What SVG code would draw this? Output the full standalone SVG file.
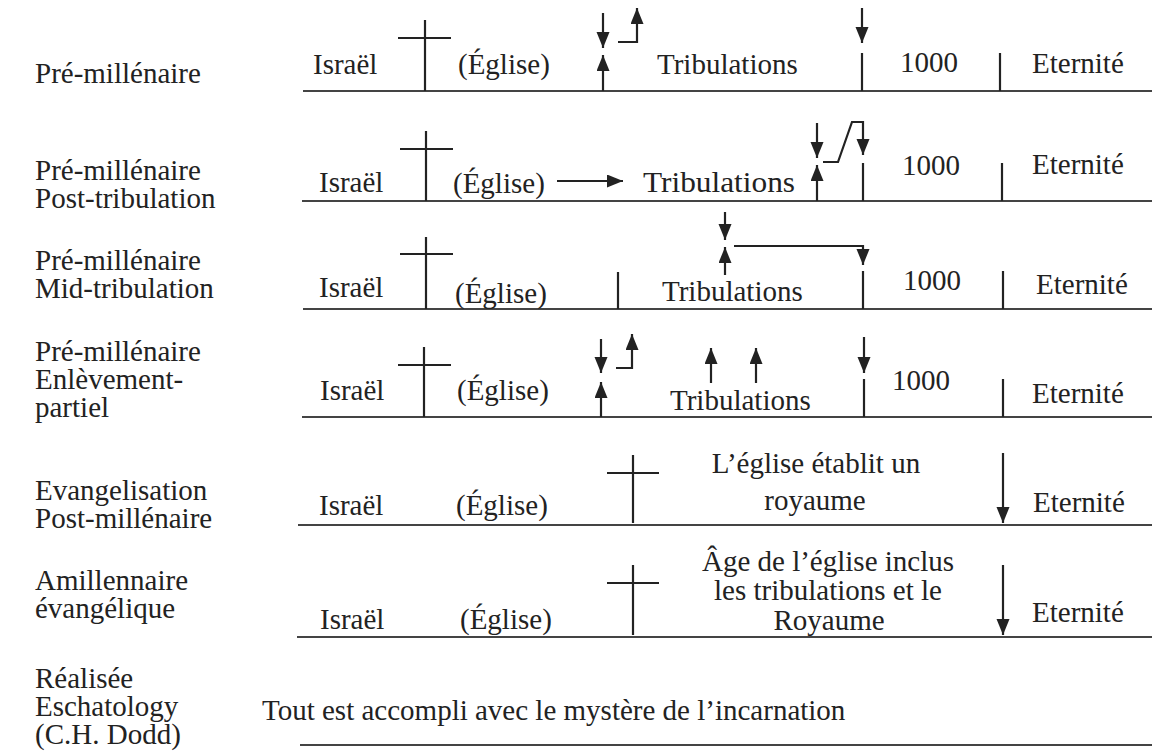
<svg xmlns="http://www.w3.org/2000/svg" width="1152" height="755" viewBox="0 0 1152 755">
<style>
text{font-family:"Liberation Serif","Times New Roman",serif;font-size:29px;fill:#222}
.mid{text-anchor:middle}
.base{stroke:#444;stroke-width:2;fill:none}
.bar{stroke:#222;stroke-width:2.2;fill:none}
.arr{stroke:#222;stroke-width:2.2;fill:none;marker-end:url(#ah)}
</style>
<defs>
<marker id="ah" markerUnits="userSpaceOnUse" markerWidth="17" markerHeight="14" refX="16" refY="6.5" orient="auto">
<path d="M0,0 L16,6.5 L0,13 z" fill="#222"/>
</marker>
</defs>
<rect width="1152" height="755" fill="#fff"/>
<g id="labels">
<text x="35" y="83">Pré-millénaire</text>
<text x="35" y="180">Pré-millénaire</text>
<text x="35" y="208">Post-tribulation</text>
<text x="35" y="270">Pré-millénaire</text>
<text x="35" y="298">Mid-tribulation</text>
<text x="35" y="361">Pré-millénaire</text>
<text x="35" y="389">Enlèvement-</text>
<text x="35" y="417">partiel</text>
<text x="35" y="500">Evangelisation</text>
<text x="35" y="528">Post-millénaire</text>
<text x="35" y="590">Amillennaire</text>
<text x="35" y="618">évangélique</text>
<text x="35" y="688">Réalisée</text>
<text x="35" y="716">Eschatology</text>
<text x="35" y="744">(C.H. Dodd)</text>
</g>
<g id="row1">
<line class="base" x1="303" y1="91" x2="1152" y2="91"/>
<line class="bar" x1="425" y1="20" x2="425" y2="91"/>
<line class="bar" x1="398" y1="38" x2="451" y2="38"/>
<line class="bar" x1="862" y1="53" x2="862" y2="91"/>
<line class="bar" x1="1000" y1="53" x2="1000" y2="91"/>
<text x="313" y="74">Israël</text>
<text x="458" y="74">(Église)</text>
<text x="657" y="74">Tribulations</text>
<text x="900" y="72">1000</text>
<text x="1032" y="73">Eternité</text>
</g>
<g id="row2">
<line class="base" x1="302" y1="201" x2="1152" y2="201"/>
<line class="bar" x1="426" y1="131" x2="426" y2="201"/>
<line class="bar" x1="400" y1="149" x2="453" y2="149"/>
<line class="bar" x1="863" y1="163" x2="863" y2="201"/>
<line class="bar" x1="1002" y1="163" x2="1002" y2="201"/>
<text x="319" y="192">Israël</text>
<text x="453" y="193">(Église)</text>
<text x="643" y="192" textLength="152" lengthAdjust="spacingAndGlyphs">Tribulations</text>
<text x="902" y="175">1000</text>
<text x="1032" y="174">Eternité</text>
</g>
<g id="row3">
<line class="base" x1="303" y1="309" x2="1152" y2="309"/>
<line class="bar" x1="426" y1="237" x2="426" y2="309"/>
<line class="bar" x1="400" y1="254" x2="453" y2="254"/>
<line class="bar" x1="618" y1="272" x2="618" y2="309"/>
<line class="bar" x1="863" y1="271" x2="863" y2="309"/>
<line class="bar" x1="1003" y1="271" x2="1003" y2="309"/>
<text x="319" y="297">Israël</text>
<text x="455" y="303">(Église)</text>
<text x="662" y="301">Tribulations</text>
<text x="903" y="290">1000</text>
<text x="1036" y="294">Eternité</text>
</g>
<g id="row4">
<line class="base" x1="302" y1="417" x2="1152" y2="417"/>
<line class="bar" x1="424" y1="347" x2="424" y2="417"/>
<line class="bar" x1="398" y1="365" x2="451" y2="365"/>
<line class="bar" x1="864" y1="379" x2="864" y2="417"/>
<line class="bar" x1="1003" y1="379" x2="1003" y2="417"/>
<text x="320" y="400">Israël</text>
<text x="457" y="400">(Église)</text>
<text x="670" y="410">Tribulations</text>
<text x="892" y="390">1000</text>
<text x="1032" y="403">Eternité</text>
</g>
<g id="row5">
<line class="base" x1="298" y1="525" x2="1152" y2="525"/>
<line class="bar" x1="633" y1="455" x2="633" y2="523"/>
<line class="bar" x1="607" y1="473" x2="659" y2="473"/>
<text x="319" y="515">Israël</text>
<text x="456" y="515">(Église)</text>
<text class="mid" x="816" y="473">L’église établit un</text>
<text class="mid" x="815" y="510">royaume</text>
<text x="1033" y="512">Eternité</text>
</g>
<g id="row6">
<line class="base" x1="297" y1="637" x2="1152" y2="637"/>
<line class="bar" x1="633" y1="565" x2="633" y2="635"/>
<line class="bar" x1="607" y1="583" x2="659" y2="583"/>
<text x="320" y="629">Israël</text>
<text x="460" y="629">(Église)</text>
<text class="mid" x="828" y="571">Âge de l’église inclus</text>
<text class="mid" x="828" y="600">les tribulations et le</text>
<text class="mid" x="829" y="630">Royaume</text>
<text x="1032" y="622">Eternité</text>
</g>
<g id="row7">
<text x="262" y="720">Tout est accompli avec le mystère de l’incarnation</text>
<line class="base" x1="300" y1="745" x2="1152" y2="745"/>
</g>
<g id="connectors">
<line class="arr" x1="603" y1="13" x2="603" y2="48"/>
<line class="arr" x1="603" y1="91" x2="603" y2="55"/>
<path class="arr" d="M618,42 H637 V8"/>
<line class="arr" x1="862" y1="8" x2="862" y2="43"/>
<line class="arr" x1="557" y1="181" x2="623" y2="181"/>
<line class="arr" x1="817" y1="123" x2="817" y2="158"/>
<line class="arr" x1="817" y1="201" x2="817" y2="165"/>
<path class="arr" d="M823,162 H838 L852,122 H863 V155"/>
<line class="arr" x1="725" y1="212" x2="725" y2="240"/>
<line class="arr" x1="725" y1="275" x2="725" y2="247"/>
<path class="arr" d="M734,246 H863 V265"/>
<line class="arr" x1="601" y1="339" x2="601" y2="373"/>
<line class="arr" x1="601" y1="417" x2="601" y2="382"/>
<path class="arr" d="M616,368 H632 V334"/>
<line class="arr" x1="711" y1="383" x2="711" y2="348"/>
<line class="arr" x1="756" y1="383" x2="756" y2="348"/>
<line class="arr" x1="864" y1="337" x2="864" y2="373"/>
<line class="arr" x1="1003" y1="453" x2="1003" y2="523"/>
<line class="arr" x1="1003" y1="565" x2="1003" y2="635"/>
</g>
</svg>
